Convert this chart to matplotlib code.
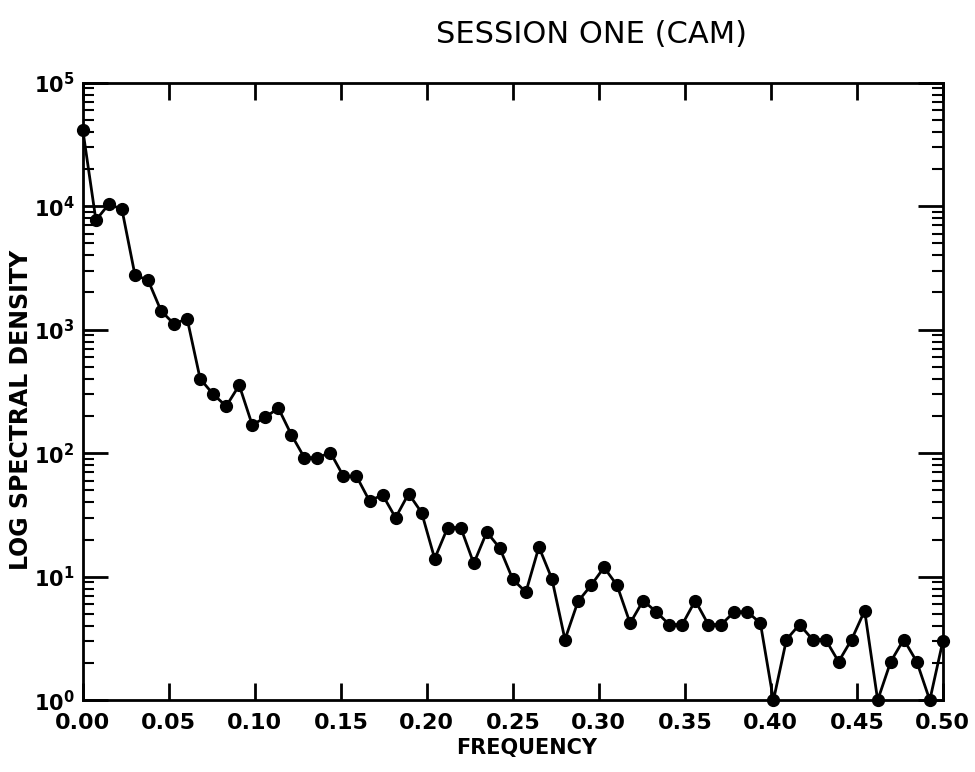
import numpy as np
import matplotlib.pyplot as plt
from matplotlib.ticker import LogLocator, MultipleLocator, FormatStrFormatter, NullFormatter

# spectral estimate, one value per frequency bin (bin width 1/132)
N_BINS = 132
psd = [41000, 7700, 10400, 9400, 2760, 2520, 1420, 1110, 1230, 400,
       300, 240, 355, 169, 195, 232, 141, 92, 92, 101,
       65, 65, 41, 46, 30, 47, 33, 14, 25, 25,
       12.8, 23, 17, 9.5, 7.5, 17.4, 9.6, 3.1, 6.3, 8.5,
       11.9, 8.5, 4.2, 6.4, 5.2, 4.1, 4.1, 6.4, 4.1, 4.1,
       5.2, 5.2, 4.2, 1.0, 3.1, 4.1, 3.1, 3.1, 2.05, 3.1,
       5.3, 1.0, 2.05, 3.1, 2.05, 1.0, 3.0]
freq = np.arange(len(psd)) / N_BINS

TITLE = "SESSION ONE (CAM)"
XLABEL = "FREQUENCY"
YLABEL = "LOG SPECTRAL DENSITY"

plt.rcParams["font.family"] = ["DejaVu Sans"]

fig = plt.figure(figsize=(9.75, 7.72), dpi=100)
ax = fig.add_axes([0.085, 0.093, 0.882, 0.800])

ax.plot(freq, psd, color="black", lw=2, marker="o", ms=8.5,
        markerfacecolor="black", markeredgecolor="black", clip_on=False, zorder=3)

ax.set_yscale("log")
ax.set_xlim(0, 0.5)
ax.set_ylim(1, 1e5)

ax.xaxis.set_major_locator(MultipleLocator(0.05))
ax.xaxis.set_major_formatter(FormatStrFormatter("%.2f"))
ax.yaxis.set_major_locator(LogLocator(base=10, numticks=10))
ax.yaxis.set_minor_locator(LogLocator(base=10, subs=np.arange(2, 10), numticks=10))
ax.yaxis.set_minor_formatter(NullFormatter())

ax.tick_params(axis="x", which="major", direction="in", length=12, width=2,
               top=True, labelsize=16, pad=9)
ax.tick_params(axis="y", which="major", direction="in", length=18, width=2,
               right=True, labelsize=15, pad=6)
ax.tick_params(axis="y", which="minor", direction="in", length=8, width=1.5,
               right=True)
for lab in ax.get_xticklabels() + ax.get_yticklabels():
    lab.set_fontweight("bold")

for sp in ax.spines.values():
    sp.set_linewidth(2)

ax.set_xlabel(XLABEL, fontsize=15, fontweight="bold")
ax.xaxis.set_label_coords(0.516, -0.062)
ax.set_ylabel(YLABEL, fontsize=17, fontweight="bold")
ax.yaxis.set_label_coords(-0.058, 0.47)

fig.text(0.607, 0.955, TITLE, fontsize=22, ha="center", va="center")

fig.savefig("out.png", dpi=100)
